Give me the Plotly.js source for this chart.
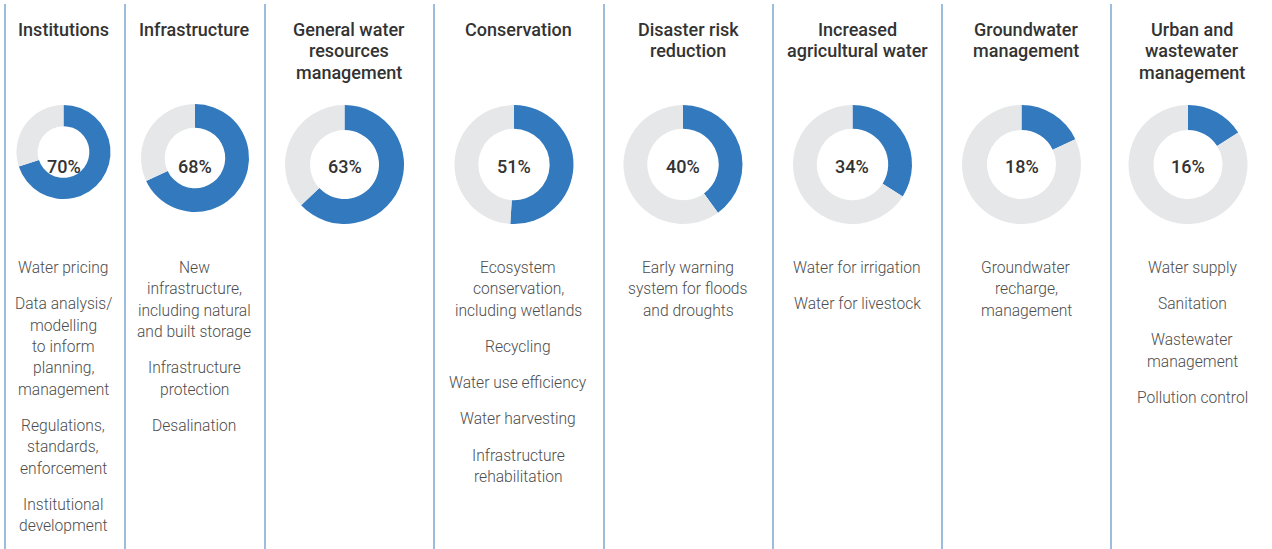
<!DOCTYPE html>
<html>
<head>
<meta charset="utf-8">
<script src="https://cdn.plot.ly/plotly-3.0.1.min.js"></script>
<style>html,body{margin:0;padding:0;background:#fff;}#chart{width:1272px;height:549px;}</style>
</head>
<body>
<div id="chart"></div>
<script>
// ---- data ----
const categories = [
  "Institutions",
  "Infrastructure",
  "General water<br>resources<br>management",
  "Conservation",
  "Disaster risk<br>reduction",
  "Increased<br>agricultural water",
  "Groundwater<br>management",
  "Urban and<br>wastewater<br>management"
];
const shares = [70, 68, 63, 51, 40, 34, 18, 16];
const measures = [
  ["Water pricing", "Data analysis/<br>modelling<br>to inform<br>planning,<br>management", "Regulations,<br>standards,<br>enforcement", "Institutional<br>development"],
  ["New<br>infrastructure,<br>including natural<br>and built storage", "Infrastructure<br>protection", "Desalination"],
  [],
  ["Ecosystem<br>conservation,<br>including wetlands", "Recycling", "Water use efficiency", "Water harvesting", "Infrastructure<br>rehabilitation"],
  ["Early warning<br>system for floods<br>and droughts"],
  ["Water for irrigation", "Water for livestock"],
  ["Groundwater<br>recharge,<br>management"],
  ["Water supply", "Sanitation", "Wastewater<br>management", "Pollution control"]
];

// ---- layout geometry (pixels) ----
const W = 1272, H = 549;
const donutCx = [63.5, 195, 344.5, 514, 683, 852.5, 1021.5, 1188];
const donutCy = [152, 158, 164.5, 164.5, 164.5, 164.5, 164.5, 164.5];
const donutR  = [47, 54, 59.5, 59.5, 59.5, 59.5, 59.5, 59.5];
const donutHole = [0.55, 0.56, 0.58, 0.6, 0.6, 0.6, 0.58, 0.58];
const textCx = [63, 194, 349, 518, 688, 857, 1026, 1192];
const dividers = [5, 125, 265, 434, 604, 773, 942, 1111];

const BLUE = "#3279be", GREY = "#e6e7e8";
const px = x => x / W, py = y => 1 - y / H;

const traces = shares.map((v, i) => ({
  type: "pie",
  values: [v, 100 - v],
  labels: ["Yes", "No"],
  marker: {colors: [BLUE, GREY], line: {width: 0}},
  hole: donutHole[i],
  sort: false,
  direction: "clockwise",
  rotation: 0,
  textinfo: "none",
  hoverinfo: "none",
  showlegend: false,
  domain: {
    x: [px(donutCx[i] - donutR[i]), px(donutCx[i] + donutR[i])],
    y: [py(donutCy[i] + donutR[i]), py(donutCy[i] - donutR[i])]
  }
}));

const annotations = [];
const titleFont = {family: "Roboto, 'Open Sans', sans-serif", size: 18, color: "#333333", weight: 500};
const bodyFont = {family: "Roboto, 'Open Sans', sans-serif", size: 15.6, color: "#4d4d4d", weight: 300};
const pctFont = {family: "Roboto, 'Open Sans', sans-serif", size: 18, color: "#333333", weight: 500};
const lineStep = 21.4, groupGap = 14.8;

categories.forEach((c, i) => {
  c.split("<br>").forEach((ln, k) => {
    annotations.push({text: ln, x: px(textCx[i]), y: py(29 + k * 21.5), xref: "paper", yref: "paper",
      xanchor: "center", yanchor: "middle", showarrow: false, font: titleFont});
  });
  annotations.push({text: shares[i] + "%", x: px(donutCx[i]), y: py(166), xref: "paper", yref: "paper",
    xanchor: "center", yanchor: "middle", showarrow: false, font: pctFont});
  let y = 268;
  measures[i].forEach(item => {
    const lines = item.split("<br>");
    lines.forEach((ln, k) => {
      annotations.push({text: ln, x: px(textCx[i]), y: py(y + k * lineStep), xref: "paper", yref: "paper",
        xanchor: "center", yanchor: "middle", showarrow: false, font: bodyFont});
    });
    y += lines.length * lineStep + groupGap;
  });
});

const shapes = dividers.map(x => ({
  type: "line", xref: "paper", yref: "paper", x0: px(x), x1: px(x), y0: py(4), y1: py(549),
  line: {color: "#7ba7d2", width: 1.5}
}));

Plotly.newPlot("chart", traces, {
  width: W, height: H,
  margin: {l: 0, r: 0, t: 0, b: 0},
  paper_bgcolor: "#ffffff", plot_bgcolor: "#ffffff",
  annotations: annotations, shapes: shapes
}, {staticPlot: true, displayModeBar: false});
</script>
</body>
</html>
